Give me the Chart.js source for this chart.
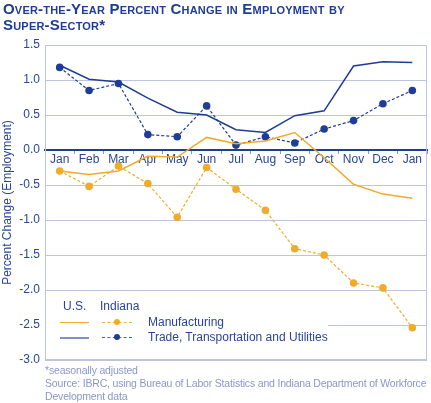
<!DOCTYPE html>
<html>
<head>
<meta charset="utf-8">
<script src="https://cdn.jsdelivr.net/npm/chart.js@4.4.1/dist/chart.umd.min.js"></script>
<style>
    body { margin: 0; background: #fff; font-family: "Liberation Sans", Arial, sans-serif; }
    #wrap { position: relative; width: 431px; height: 403px; overflow: hidden; }
    #chart { position: absolute; left: 0; top: 0; }
    .title {
        position: absolute; left: 3px; top: 1px;
        font-size: 15px; font-weight: bold; font-variant: small-caps;
        color: #1f3c96; line-height: 16px; letter-spacing: 0.2px;
    }
    .legend { position: absolute; left: 60px; top: 297px; width: 267px; height: 55px; color: #2a4599; font-size: 12px; }
    .legend span { position: absolute; white-space: nowrap; }
    .sw { position: absolute; height: 0; }
    .dot { position: absolute; width: 6px; height: 6px; border-radius: 50%; }
    .note { position: absolute; left: 45px; top: 364px; font-size: 10.5px; letter-spacing: -0.18px; line-height: 13px; color: #8a98c8; white-space: nowrap; }
</style>
</head>
<body>
<div id="wrap">
    <canvas id="chart" width="431" height="403"></canvas>
    <div class="title">Over-the-Year Percent Change in Employment by<br>Super-Sector*</div>
    <div class="legend">
        <span style="left:3px; top:2px;">U.S.</span>
        <span style="left:40px; top:2px;">Indiana</span>
        <div class="sw" style="left:0; top:25px; width:29px; border-top:1.5px solid #efab2a;"></div>
        <div class="sw" style="left:42px; top:25px; width:30px; border-top:1.2px dashed #efab2a;"></div>
        <div class="dot" style="left:54px; top:22px; background:#efab2a;"></div>
        <span style="left:88px; top:18px;">Manufacturing</span>
        <div class="sw" style="left:0; top:40px; width:29px; border-top:2px solid #8090c4;"></div>
        <div class="sw" style="left:42px; top:40px; width:30px; border-top:1.2px dashed #4a5fa8;"></div>
        <div class="dot" style="left:54px; top:37px; background:#1f3c96;"></div>
        <span style="left:88px; top:33px;">Trade, Transportation and Utilities</span>
    </div>
    <div class="note">*seasonally adjusted<br>Source: IBRC, using Bureau of Labor Statistics and Indiana Department of Workforce<br>Development data</div>
</div>
<script>
// Data
const months = ['Jan', 'Feb', 'Mar', 'Apr', 'May', 'Jun', 'Jul', 'Aug', 'Sep', 'Oct', 'Nov', 'Dec', 'Jan'];
const usManufacturing = [-0.30, -0.35, -0.30, -0.09, -0.10, 0.18, 0.09, 0.13, 0.25, -0.11, -0.49, -0.63, -0.69];
const inManufacturing = [-0.30, -0.52, -0.23, -0.48, -0.96, -0.25, -0.56, -0.86, -1.41, -1.50, -1.90, -1.97, -2.54];
const usTrade = [1.21, 1.01, 0.97, 0.74, 0.54, 0.50, 0.29, 0.25, 0.49, 0.56, 1.20, 1.26, 1.25];
const inTrade = [1.18, 0.85, 0.95, 0.22, 0.19, 0.63, 0.07, 0.19, 0.10, 0.30, 0.42, 0.66, 0.85];

const BLUE = '#1f3c96';
const ORANGE = '#efab2a';
const GRID = '#bcc5e0';
const TEXT = '#2a4599';

// Light frame round the plot area
const framePlugin = {
    id: 'frame',
    beforeDatasetsDraw(chart) {
        const { ctx, chartArea: a } = chart;
        ctx.save();
        ctx.strokeStyle = GRID;
        ctx.lineWidth = 1;
        ctx.strokeRect(a.left + 0.5, a.top + 0.5, a.right - a.left - 1, a.bottom - a.top - 1);
        // white box behind the legend
        ctx.fillStyle = '#fff';
        ctx.fillRect(a.left + 1, 292, 282, 62);
        ctx.restore();
    }
};

new Chart(document.getElementById('chart'), {
    type: 'line',
    data: {
        labels: months,
        datasets: [
            {
                data: usManufacturing,
                borderColor: ORANGE,
                borderWidth: 1.5,
                pointRadius: 0,
                tension: 0
            },
            {
                data: inManufacturing,
                borderColor: ORANGE,
                backgroundColor: ORANGE,
                borderWidth: 1.2,
                borderDash: [3, 2],
                pointRadius: 3.8,
                pointBorderWidth: 0,
                tension: 0
            },
            {
                data: usTrade,
                borderColor: BLUE,
                borderWidth: 1.5,
                pointRadius: 0,
                tension: 0
            },
            {
                data: inTrade,
                borderColor: BLUE,
                backgroundColor: BLUE,
                borderWidth: 1.2,
                borderDash: [3, 2],
                pointRadius: 3.8,
                pointBorderWidth: 0,
                tension: 0
            }
        ]
    },
    options: {
        responsive: false,
        animation: false,
        layout: { padding: { top: 45, right: 3, bottom: 43, left: 0 } },
        plugins: {
            legend: { display: false },
            tooltip: { enabled: false }
        },
        scales: {
            x: {
                position: { y: 0 },
                offset: true,
                border: { color: BLUE, width: 2 },
                grid: {
                    offset: true,
                    drawOnChartArea: false,
                    drawTicks: true,
                    tickLength: 3,
                    color: '#8a98c8'
                },
                ticks: {
                    color: TEXT,
                    padding: -1,
                    maxRotation: 0,
                    autoSkip: false,
                    font: { family: 'Liberation Sans', size: 12 }
                }
            },
            y: {
                min: -3,
                max: 1.5,
                afterFit: s => { s.width = 45; },
                border: { color: GRID },
                grid: { color: GRID, drawTicks: false },
                ticks: {
                    stepSize: 0.5,
                    padding: 5,
                    color: TEXT,
                    font: { family: 'Liberation Sans', size: 12 },
                    callback: v => v.toFixed(1)
                },
                title: {
                    display: true,
                    text: 'Percent Change (Employment)',
                    color: TEXT,
                    padding: { top: 0, bottom: 1 },
                    font: { family: 'Liberation Sans', size: 12 }
                }
            }
        }
    },
    plugins: [framePlugin]
});
</script>
</body>
</html>
